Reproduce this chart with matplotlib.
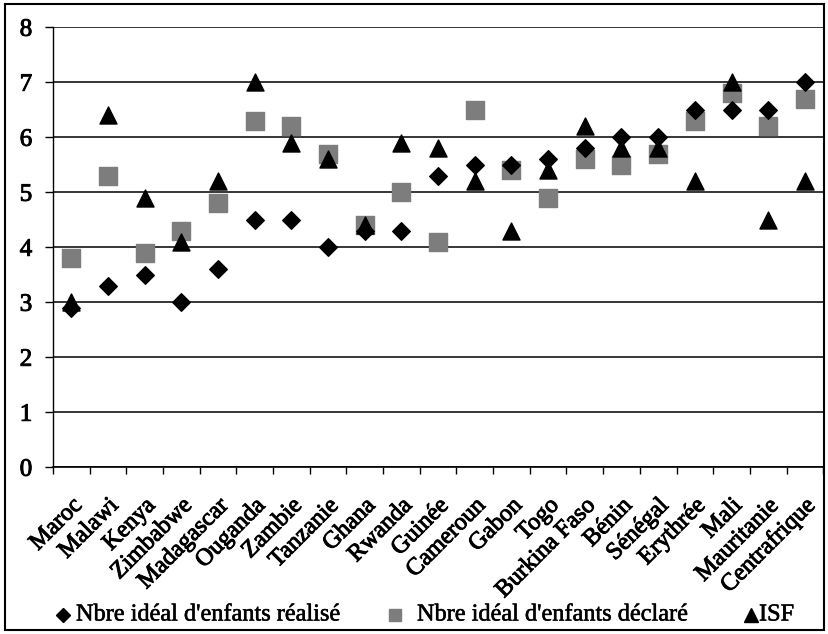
import matplotlib
matplotlib.use("Agg")
import matplotlib.pyplot as plt
import matplotlib.patheffects as pe
import numpy as np
from matplotlib.patches import Rectangle
from matplotlib.lines import Line2D

countries = ["Maroc", "Malawi", "Kenya", "Zimbabwe", "Madagascar", "Ouganda", "Zambie",
             "Tanzanie", "Ghana", "Rwanda", "Guinée", "Cameroun", "Gabon", "Togo",
             "Burkina Faso", "Bénin", "Sénégal", "Erythrée", "Mali", "Mauritanie", "Centrafrique"]
realise = [2.9, 3.3, 3.5, 3.0, 3.6, 4.5, 4.5, 4.0, 4.3, 4.3, 5.3, 5.5, 5.5, 5.6, 5.8, 6.0, 6.0, 6.5, 6.5, 6.5, 7.0]
declare = [3.8, 5.3, 3.9, 4.3, 4.8, 6.3, 6.2, 5.7, 4.4, 5.0, 4.1, 6.5, 5.4, 4.9, 5.6, 5.5, 5.7, 6.3, 6.8, 6.2, 6.7]
isf = [3.0, 6.4, 4.9, 4.1, 5.2, 7.0, 5.9, 5.6, 4.4, 5.9, 5.8, 5.2, 4.3, 5.4, 6.2, 5.8, 5.8, 5.2, 7.0, 4.5, 5.2]
yticks = [0, 1, 2, 3, 4, 5, 6, 7, 8]
labels = ["Nbre idéal d'enfants réalisé", "Nbre idéal d'enfants déclaré", "ISF"]

plt.rcParams['font.family'] = ['Liberation Serif', 'DejaVu Serif']
heavy = [pe.withStroke(linewidth=0.7, foreground='black')]

fig = plt.figure(figsize=(8.29, 6.34), dpi=100)
ax = fig.add_axes([0.064, 0.263, 0.929, 0.694])

x = np.arange(len(countries))
sq_color = '#7d7d7d'
ax.scatter(x, declare, marker='s', s=150, color=sq_color, zorder=3)
ax.scatter(x, isf, marker='^', s=150, color='black', zorder=4)
ax.scatter(x, realise, marker='D', s=80, color='black', zorder=5)

ax.set_ylim(0, 8)
ax.set_xlim(-0.5, len(countries) - 0.5)
ax.set_yticks(yticks)
ax.set_yticklabels([str(v) for v in yticks], fontsize=18, path_effects=heavy)
ax.yaxis.grid(True, color='black', linewidth=1.1)
ax.set_axisbelow(True)
ax.set_xticks(np.arange(len(countries) + 1) - 0.5)
ax.set_xticklabels([])
ax.set_xticks(x, minor=True)
ax.set_xticklabels(countries, minor=True, rotation=45, ha='right', rotation_mode='anchor',
                   fontsize=17.5, path_effects=heavy)
ax.tick_params(axis='x', which='minor', length=0, pad=20)
ax.tick_params(axis='x', which='major', length=5, direction='out', width=1)
ax.tick_params(axis='y', length=6, direction='out', width=1, pad=9)
for s in ['top', 'right']:
    ax.spines[s].set_visible(False)
ax.spines['left'].set_linewidth(1)
ax.spines['bottom'].set_linewidth(1.2)

# legend entries (figure coordinates)
W, H = 829.0, 634.0
ly = 1 - 615 / H
markers = [('D', 'black', 7.5, 63), ('s', sq_color, 8, 395), ('^', 'black', 9.5, 751)]
text_x = [76, 417, 759]
for (m, c, ms, mx), lab, tx in zip(markers, labels, text_x):
    fig.add_artist(Line2D([mx / W], [ly], marker=m, color=c, markersize=ms,
                          linestyle='none', transform=fig.transFigure))
    fig.text(tx / W, ly, lab, fontsize=17.5, ha='left', va='center',
             path_effects=[pe.withStroke(linewidth=0.4, foreground='black')])

fig.patches.append(Rectangle((0.006, 0.006), 0.988, 0.988, transform=fig.transFigure,
                             fill=False, edgecolor='black', linewidth=1.5))

fig.savefig("out.png", dpi=100)
